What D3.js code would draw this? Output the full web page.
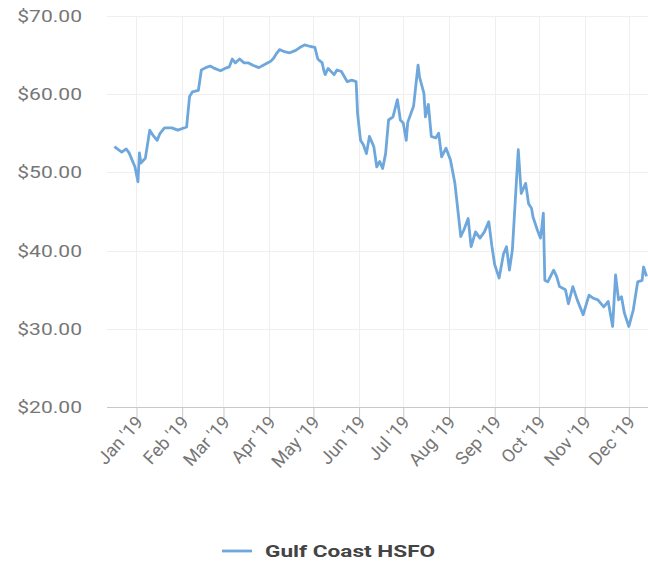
<!DOCTYPE html>
<html>
<head>
<meta charset="utf-8">
<script src="https://cdn.jsdelivr.net/npm/d3@7"></script>
<style>
  html, body { margin: 0; padding: 0; background: #fff; }
  svg { display: block; font-family: Roboto, "Noto Sans", sans-serif; }
</style>
</head>
<body>
<svg id="chart" width="648" height="562"></svg>
<script>
// Gulf Coast HSFO price, USD per barrel
const dates = [
  "2018-12-17","2018-12-19","2018-12-22","2018-12-25","2018-12-27","2018-12-31",
  "2019-01-02","2019-01-03","2019-01-04","2019-01-07","2019-01-10","2019-01-12","2019-01-15",
  "2019-01-17","2019-01-20","2019-01-25","2019-01-29",
  "2019-02-04","2019-02-06","2019-02-08","2019-02-12","2019-02-14","2019-02-17","2019-02-20",
  "2019-02-23","2019-02-27",
  "2019-03-02","2019-03-05","2019-03-07","2019-03-09","2019-03-12","2019-03-15","2019-03-18",
  "2019-03-21","2019-03-25","2019-03-28",
  "2019-04-02","2019-04-04","2019-04-06","2019-04-08","2019-04-12","2019-04-15","2019-04-19",
  "2019-04-22","2019-04-25","2019-04-29",
  "2019-05-02","2019-05-04","2019-05-07","2019-05-08","2019-05-09","2019-05-11","2019-05-15",
  "2019-05-17","2019-05-20","2019-05-24","2019-05-27","2019-05-30","2019-05-31",
  "2019-06-02","2019-06-04","2019-06-06","2019-06-08","2019-06-11","2019-06-13","2019-06-15",
  "2019-06-17","2019-06-19","2019-06-21","2019-06-24","2019-06-27","2019-06-29",
  "2019-07-01","2019-07-03","2019-07-04","2019-07-08","2019-07-11","2019-07-12","2019-07-15",
  "2019-07-16","2019-07-18","2019-07-20","2019-07-23","2019-07-25","2019-07-27","2019-07-30",
  "2019-08-02","2019-08-05","2019-08-09","2019-08-11","2019-08-14","2019-08-16","2019-08-19",
  "2019-08-22","2019-08-25","2019-08-28","2019-08-30",
  "2019-09-01","2019-09-04","2019-09-07","2019-09-09","2019-09-11","2019-09-13","2019-09-15",
  "2019-09-17","2019-09-19","2019-09-22","2019-09-24","2019-09-26","2019-09-27","2019-09-30",
  "2019-10-02","2019-10-03","2019-10-04","2019-10-05","2019-10-07","2019-10-11","2019-10-13",
  "2019-10-15","2019-10-19","2019-10-21","2019-10-24","2019-10-27","2019-10-31",
  "2019-11-04","2019-11-07","2019-11-10","2019-11-14","2019-11-17","2019-11-20","2019-11-22",
  "2019-11-24","2019-11-26","2019-11-28",
  "2019-12-01","2019-12-04","2019-12-07","2019-12-10","2019-12-11","2019-12-13"
];
const prices = [
  53.3, 53.0, 52.6, 53.0, 52.5, 50.7,
  48.8, 52.5, 51.2, 51.8, 55.4, 54.8, 54.1,
  55.0, 55.7, 55.7, 55.4,
  55.8, 59.7, 60.3, 60.5, 63.1, 63.4, 63.6,
  63.3, 63.0,
  63.3, 63.5, 64.5, 64.0, 64.5, 64.0, 64.0,
  63.7, 63.4, 63.7,
  64.2, 64.6, 65.2, 65.7, 65.4, 65.3, 65.6,
  66.0, 66.3, 66.1,
  66.0, 64.5, 64.0, 63.1, 62.5, 63.3, 62.5,
  63.1, 62.9, 61.6, 61.8, 61.6, 57.5,
  54.1, 53.5, 52.4, 54.6, 53.3, 50.7, 51.4,
  50.5, 52.4, 56.7, 57.1, 59.3, 56.7,
  56.3, 54.1, 56.4, 58.5, 63.7, 62.2, 60.1,
  57.1, 58.7, 54.6, 54.4, 55.0, 52.0, 53.1,
  51.6, 48.6, 41.8, 42.6, 44.1, 40.5, 42.4,
  41.6, 42.4, 43.7, 40.7,
  38.2, 36.5, 39.6, 40.5, 37.5, 40.1, 46.5,
  52.9, 47.3, 48.6, 46.0, 45.4, 44.3, 42.6,
  41.6, 43.0, 44.8, 36.2, 36.0, 37.5, 36.7,
  35.4, 35.0, 33.2, 35.4, 33.7, 31.8,
  34.3, 33.9, 33.7, 32.8, 33.5, 30.3, 36.9,
  33.7, 34.1, 32.0,
  30.3, 32.4, 36.0, 36.2, 37.9, 36.7
];
const yTicks = [20, 30, 40, 50, 60, 70];
const xTickMonths = [
  "2019-01-01","2019-02-01","2019-03-01","2019-04-01","2019-05-01","2019-06-01",
  "2019-07-01","2019-08-01","2019-09-01","2019-10-01","2019-11-01","2019-12-01"
];
const seriesName = "Gulf Coast HSFO";

const parse = d3.utcParse("%Y-%m-%d");
const points = dates.map((d, i) => ({ date: parse(d), value: prices[i] }));

const svg = d3.select("#chart");
const plotLeft = 107, plotRight = 648, plotTop = 16, plotBottom = 407;

const x = d3.scaleUtc()
  .domain([parse("2018-12-12"), parse("2019-12-14")])
  .range([plotLeft, plotRight]);
const y = d3.scaleLinear().domain([20, 70]).range([plotBottom, plotTop]);

const lineColor = "#6ea7db";
const tickDates = xTickMonths.map(parse);

// grid
svg.append("g").selectAll("line")
  .data(yTicks.filter(v => v !== 20))
  .join("line")
  .attr("x1", plotLeft).attr("x2", plotRight)
  .attr("y1", d => Math.round(y(d)) + 0.5).attr("y2", d => Math.round(y(d)) + 0.5)
  .attr("stroke", "#efefef").attr("stroke-width", 1);

svg.append("g").selectAll("line")
  .data(tickDates)
  .join("line")
  .attr("x1", d => Math.round(x(d)) + 0.5).attr("x2", d => Math.round(x(d)) + 0.5)
  .attr("y1", plotTop).attr("y2", plotBottom)
  .attr("stroke", "#efefef").attr("stroke-width", 1);

// y labels
svg.append("g").selectAll("text")
  .data(yTicks)
  .join("text")
  .attr("transform", d => `translate(82,${y(d)}) scale(1.24,1)`)
  .attr("text-anchor", "end")
  .attr("dy", "0.35em")
  .attr("font-size", 17)
  .attr("fill", "#767676")
  .text(d => d3.format("$.2f")(d));

// x axis
const xAxis = d3.axisBottom(x)
  .tickValues(tickDates)
  .tickSize(11)
  .tickFormat(d3.utcFormat("%b '%y"));

const gx = svg.append("g")
  .attr("transform", `translate(0,${plotBottom})`)
  .call(xAxis);
gx.select(".domain").attr("stroke", "#c8c8c8").attr("d", `M${plotLeft},0.5H${plotRight}`);
gx.selectAll(".tick line").attr("stroke", "#c8c8c8");
gx.selectAll(".tick text")
  .attr("font-family", "Roboto, sans-serif")
  .attr("font-size", 18)
  .attr("fill", "#767676")
  .attr("text-anchor", "end")
  .attr("dy", null)
  .attr("y", 0)
  .attr("transform", "translate(7,16) rotate(-48)");

// series
svg.append("path")
  .datum(points)
  .attr("fill", "none")
  .attr("stroke", lineColor)
  .attr("stroke-width", 2.8)
  .attr("stroke-linejoin", "round")
  .attr("d", d3.line().x(d => x(d.date)).y(d => y(d.value)));

// legend
const lg = svg.append("g").attr("transform", "translate(222,551)");
lg.append("line").attr("x1", 0).attr("x2", 30).attr("y1", 0).attr("y2", 0)
  .attr("stroke", lineColor).attr("stroke-width", 2.8);
lg.append("text")
  .attr("transform", "translate(43,0) scale(1.33,1)")
  .attr("dy", "0.35em")
  .attr("font-size", 17)
  .attr("font-weight", "bold")
  .attr("fill", "#444")
  .text(seriesName);
</script>
</body>
</html>
